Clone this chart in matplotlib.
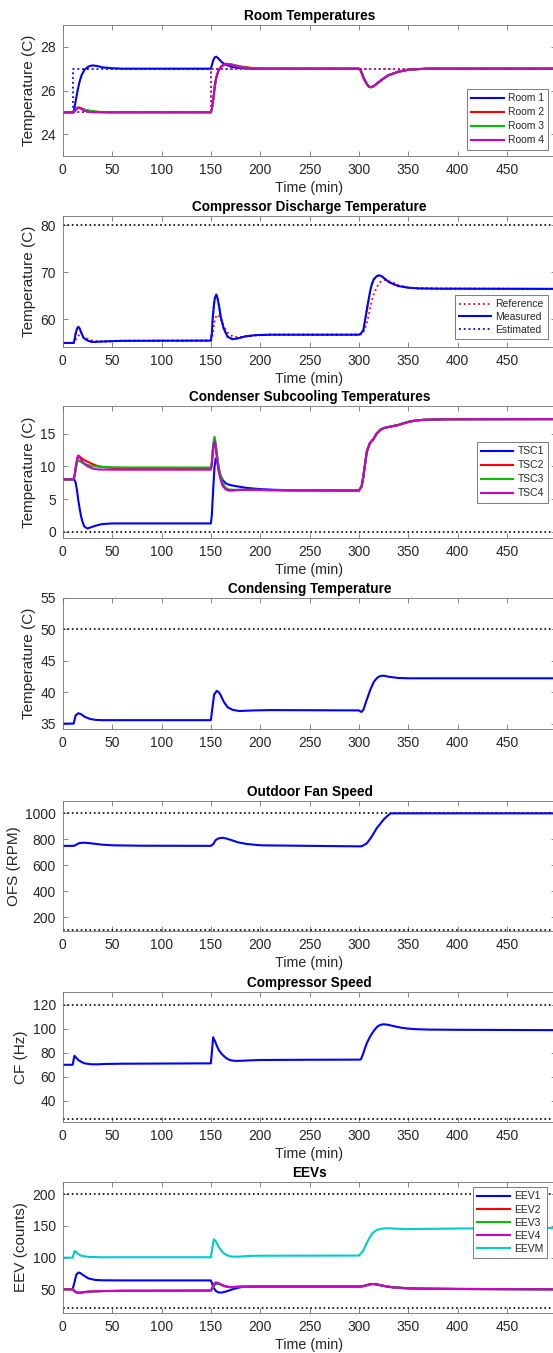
import matplotlib
matplotlib.use("Agg")
import matplotlib.pyplot as plt

plt.rcParams['font.family'] = ['Liberation Sans', 'DejaVu Sans']

# ---------------- data ----------------
# Room temperatures
T_ROOM = [0, 11, 13, 15, 17, 19, 22, 26, 30, 35, 40, 50, 60, 150, 151, 152.5, 154, 155.5, 158, 161,
          165, 170, 175, 180, 190, 200, 300, 302, 305, 308, 310, 312, 315, 320, 325, 330, 340, 350, 360, 370, 500]
ROOM1 = [25, 25, 25.5, 26.0, 26.4, 26.7, 26.95, 27.1, 27.15, 27.12, 27.06, 27.02, 27.0, 27.0, 27.15, 27.4, 27.52, 27.55, 27.45, 27.3,
         27.18, 27.1, 27.05, 27.02, 27.0, 27.0, 27.0, 26.9, 26.55, 26.3, 26.18, 26.15, 26.2, 26.38, 26.55, 26.7, 26.86, 26.95, 26.98, 27.0, 27.0]
ROOM2 = [25, 25, 25.12, 25.22, 25.22, 25.18, 25.12, 25.07, 25.04, 25.02, 25.01, 25.0, 25.0, 25.0, 25.15, 25.6, 26.2, 26.6, 26.95, 27.12,
         27.22, 27.2, 27.15, 27.1, 27.04, 27.0, 27.0, 26.9, 26.55, 26.3, 26.18, 26.15, 26.2, 26.38, 26.55, 26.7, 26.86, 26.95, 26.98, 27.0, 27.0]
ROOM3 = [25, 25, 25.1, 25.18, 25.2, 25.17, 25.12, 25.08, 25.05, 25.03, 25.01, 25.0, 25.0, 25.0, 25.15, 25.6, 26.2, 26.6, 26.95, 27.12,
         27.22, 27.2, 27.14, 27.08, 27.03, 27.0, 27.0, 26.9, 26.55, 26.3, 26.18, 26.15, 26.2, 26.38, 26.55, 26.7, 26.86, 26.95, 26.98, 27.0, 27.0]
ROOM4 = [25, 25, 25.12, 25.2, 25.2, 25.15, 25.07, 25.02, 25.0, 25.0, 25.0, 25.0, 25.0, 25.0, 25.15, 25.6, 26.2, 26.6, 26.95, 27.12,
         27.22, 27.18, 27.12, 27.07, 27.02, 27.0, 27.0, 26.9, 26.55, 26.3, 26.18, 26.15, 26.2, 26.38, 26.55, 26.7, 26.86, 26.95, 26.98, 27.0, 27.0]
T_REF_ROOM1 = [0, 10, 10, 500]
REF_ROOM1 = [25, 25, 27, 27]
T_REF_ROOMS = [0, 150, 150, 500]
REF_ROOMS = [25, 25, 27, 27]
ROOM_LABELS = ['Room 1', 'Room 2', 'Room 3', 'Room 4']

# Compressor discharge temperature
T_CDT = [0, 11, 12, 13, 14.5, 15.7, 17, 18.5, 21, 25, 30, 40, 60, 150, 151, 152, 153, 154, 155.5, 157,
         158.5, 160, 163, 167, 172, 178, 185, 195, 210, 300, 302, 304.5, 306, 308, 310, 311.6, 313, 315, 318, 320.6,
         323, 326, 330, 335, 340, 350, 360, 380, 500]
CDT_MEASURED = [55.0, 55.0, 55.8, 57.0, 58.1, 58.45, 58.1, 57.3, 56.1, 55.5, 55.2, 55.3, 55.45, 55.5, 57.0, 60.6, 62.8, 64.5, 65.3, 64.3,
                62.6, 60.6, 58.1, 56.3, 55.8, 56.0, 56.4, 56.65, 56.75, 56.75, 57.0, 57.7, 59.5, 62.0, 64.4, 66.2, 67.4, 68.5, 69.2, 69.4,
                69.2, 68.7, 68.0, 67.5, 67.1, 66.75, 66.6, 66.55, 66.5]
CDT_REFERENCE = [55.0, 55.0, 55.2, 55.6, 56.2, 56.5, 56.7, 56.6, 56.3, 55.9, 55.5, 55.3, 55.45, 55.5, 55.8, 57.0, 58.5, 59.8, 60.8, 61.0,
                 60.6, 60.0, 58.6, 57.2, 56.4, 56.2, 56.4, 56.6, 56.75, 56.75, 56.8, 57.2, 58.0, 59.2, 61.0, 62.6, 63.9, 65.3, 66.8, 67.7,
                 68.2, 68.4, 68.2, 67.8, 67.3, 66.8, 66.6, 66.55, 66.5]
CDT_ESTIMATED = [55.0, 55.0, 55.8, 57.0, 58.1, 58.45, 58.1, 57.3, 56.1, 55.5, 55.2, 55.3, 55.45, 55.5, 57.0, 60.6, 62.8, 64.5, 65.3, 64.3,
                 62.6, 60.6, 58.1, 56.3, 55.8, 56.0, 56.4, 56.65, 56.75, 56.75, 57.0, 57.7, 59.5, 62.0, 64.4, 66.2, 67.4, 68.5, 69.2, 69.4,
                 69.2, 68.7, 68.0, 67.5, 67.1, 66.75, 66.6, 66.55, 66.5]
CDT_MAX = 80

# Condenser subcooling temperatures
T_TSC = [0, 11, 12, 13.2, 14.5, 15.7, 17, 18.6, 20, 22, 25, 30, 35, 40, 50, 60, 150, 151, 152.3, 153.7,
         155, 156.5, 158, 160, 162, 165, 168, 172, 176, 180, 186, 193, 201, 215, 230, 300, 302.7, 304.5, 306.3, 308,
         311, 315, 318, 322, 326, 330, 335, 340, 345, 351, 358, 365, 375, 390, 500]
TSC1 = [8.0, 8.0, 7.9, 7.4, 6.2, 4.8, 3.6, 2.3, 1.5, 0.76, 0.5, 0.76, 1.0, 1.17, 1.27, 1.27, 1.27, 2.5, 6.3, 9.9,
        11.2, 10.8, 9.4, 8.5, 7.9, 7.4, 7.2, 7.05, 6.95, 6.85, 6.7, 6.6, 6.5, 6.4, 6.35, 6.3, 6.9, 8.4, 10.4, 12.2,
        13.5, 14.2, 15.0, 15.6, 15.85, 16.0, 16.15, 16.3, 16.55, 16.8, 17.0, 17.08, 17.13, 17.18, 17.2]
TSC2 = [8.0, 8.0, 8.6, 9.8, 10.9, 11.55, 11.5, 11.3, 11.15, 10.95, 10.7, 10.35, 10.05, 9.9, 9.75, 9.7, 9.65, 10.5, 13.0, 14.2,
        13.0, 11.2, 9.6, 8.2, 7.2, 6.5, 6.3, 6.3, 6.35, 6.4, 6.4, 6.4, 6.38, 6.35, 6.32, 6.3, 6.9, 8.4, 10.4, 12.2,
        13.5, 14.2, 15.0, 15.6, 15.85, 16.0, 16.15, 16.3, 16.55, 16.8, 17.0, 17.08, 17.13, 17.18, 17.2]
TSC3 = [8.0, 8.0, 8.6, 9.7, 10.6, 10.9, 10.8, 10.65, 10.5, 10.35, 10.2, 10.05, 9.95, 9.9, 9.85, 9.82, 9.8, 10.6, 13.3, 14.5,
        13.5, 11.5, 9.9, 8.5, 7.4, 6.7, 6.45, 6.4, 6.4, 6.4, 6.4, 6.4, 6.38, 6.35, 6.32, 6.3, 6.9, 8.4, 10.4, 12.2,
        13.5, 14.2, 15.0, 15.6, 15.85, 16.0, 16.15, 16.3, 16.55, 16.8, 17.0, 17.08, 17.13, 17.18, 17.2]
TSC4 = [8.0, 8.0, 8.7, 10.0, 11.2, 11.65, 11.4, 11.0, 10.7, 10.35, 10.0, 9.66, 9.52, 9.5, 9.48, 9.48, 9.48, 10.2, 12.6, 13.8,
        12.8, 10.8, 9.2, 7.9, 7.0, 6.5, 6.35, 6.35, 6.38, 6.4, 6.4, 6.4, 6.38, 6.35, 6.32, 6.3, 6.9, 8.4, 10.4, 12.2,
        13.5, 14.2, 15.0, 15.6, 15.85, 16.0, 16.15, 16.3, 16.55, 16.8, 17.0, 17.08, 17.13, 17.18, 17.2]
TSC_LABELS = ['TSC1', 'TSC2', 'TSC3', 'TSC4']
TSC_MIN = 0

# Condensing temperature
T_TC = [0, 11, 13, 15.7, 18.6, 22, 27.5, 33, 40, 150, 151.5, 153.3, 156, 158, 160, 163, 167, 172, 179, 186,
        194, 210, 300, 302.5, 304.5, 308, 311.6, 315, 318, 320.6, 323, 326, 330, 335, 340, 350, 370, 500]
TC = [35.0, 35.0, 36.3, 36.65, 36.5, 36.1, 35.75, 35.6, 35.55, 35.55, 37.4, 39.6, 40.2, 40.0, 39.5, 38.5, 37.6, 37.2, 37.0, 37.05,
      37.1, 37.15, 37.1, 36.85, 37.2, 38.8, 40.4, 41.6, 42.2, 42.5, 42.6, 42.6, 42.45, 42.35, 42.25, 42.2, 42.2, 42.2]
TC_MAX = 50

# Outdoor fan speed
T_OFS = [0, 11, 13, 16.8, 22, 29, 40, 51, 79, 150, 152.5, 155, 158, 161.5, 165, 170.5, 177.6, 186.6, 201, 250,
         300, 303, 308, 312, 315, 318, 322, 325, 328, 332, 500]
OFS = [750, 750, 756, 772, 774, 769, 759, 754, 751, 750, 764, 795, 808, 812, 808, 795, 777, 764, 754, 750,
       746, 747, 769, 810, 846, 885, 923, 952, 974, 1000, 1000]
OFS_LIMITS = [100, 1000]

# Compressor speed
T_CF = [0, 10, 11.8, 13.5, 15.7, 18.6, 22, 29, 36, 43.6, 60, 150, 151, 152.3, 154.4, 156, 158, 160, 162, 164.5,
        167, 170, 174, 179, 190, 200, 250, 300, 302, 304.5, 306, 308, 311, 313.4, 316, 318.8, 321, 324, 328, 333,
        338, 344, 350, 358, 370, 400, 500]
CF = [70.0, 70.0, 77.5, 76.0, 74.0, 72.5, 71.2, 70.4, 70.4, 70.7, 70.9, 71.2, 80.0, 93.0, 89.3, 86.0, 82.4, 80.0, 78.2, 76.3,
      74.8, 73.8, 73.3, 73.3, 73.7, 74.0, 74.2, 74.3, 74.5, 79.6, 83.5, 88.0, 93.0, 96.3, 99.3, 101.9, 103.0, 103.8, 103.6, 102.7,
      101.8, 100.8, 100.2, 99.7, 99.4, 99.2, 98.9]
CF_LIMITS = [25, 120]

# EEVs
T_EEV = [0, 10, 12, 13.6, 15.7, 18, 20.4, 25.7, 33, 40, 60, 150, 151, 153, 155, 158, 161.5, 165, 168.7, 172,
         178, 183, 190, 200, 300, 304, 308, 311, 314, 318, 322, 328, 335, 347, 360, 400, 500]
EEV1 = [50, 50, 62, 72.6, 76.5, 75.5, 72.6, 67.3, 64.7, 64.2, 64, 64, 60, 52, 47.5, 44.8, 45.0, 46.3, 48.2, 50,
        52.5, 54, 54.2, 54.3, 54.3, 54.8, 56.5, 57.8, 58.4, 57.8, 56.3, 54.5, 53.0, 51.8, 51.0, 50.5, 50]
EEV2 = [50, 50, 47, 45.3, 44.8, 44.9, 45.5, 46.3, 46.8, 47.2, 47.6, 48, 50, 57, 60, 59, 56.5, 54.5, 53.5, 53.5,
        54, 54.2, 54.2, 54.3, 54.3, 54.8, 56.5, 57.8, 58.4, 57.8, 56.3, 54.5, 53.0, 51.8, 51.0, 50.5, 50]
EEV3 = [50, 50, 46.5, 44.8, 44.0, 44.2, 45.0, 46.0, 46.7, 47.1, 47.5, 47.8, 50, 55, 58, 58.5, 56.5, 54.5, 53.5, 53.5,
        54, 54.2, 54.2, 54.3, 54.3, 54.8, 56.5, 57.8, 58.4, 57.8, 56.3, 54.5, 53.0, 51.8, 51.0, 50.5, 50]
EEV4 = [50, 50, 47, 45.5, 44.5, 44.5, 45.2, 46.2, 46.8, 47.2, 47.6, 48, 51, 58, 61, 59.5, 56.5, 54.5, 53.5, 53.5,
        54, 54.2, 54.2, 54.3, 54.3, 54.8, 56.5, 57.8, 58.4, 57.8, 56.3, 54.5, 53.0, 51.8, 51.0, 50.5, 50]
EEVM = [100, 100, 110.5, 109, 105.6, 103.5, 102.5, 101.2, 100.8, 100.6, 100.6, 100.6, 110, 129, 126, 117, 109.3, 105, 102.4, 101.6,
        101.6, 102.2, 102.8, 103, 103.3, 110, 123, 132, 139, 143.5, 145.5, 146.5, 146, 145, 145.3, 146, 147]
EEV_LABELS = ['EEV1', 'EEV2', 'EEV3', 'EEV4', 'EEVM']
EEV_LIMITS = [20, 200]

XTICKS = [0, 50, 100, 150, 200, 250, 300, 350, 400, 450]

# ---------------- layout ----------------
W, H = 553, 1353
fig = plt.figure(figsize=(W / 100, H / 100), dpi=100)

LEFT_PX, RIGHT_PX = 62.8, 556.3
boxes = [(25.0, 156.0), (216.0, 346.7), (406.0, 538.3), (597.7, 729.3),
         (801.0, 931.0), (991.7, 1122.3), (1181.7, 1312.7)]

BLUE, RED, GREEN, MAG, CYAN = '#0000ff', '#ff0000', '#00c000', '#cc00cc', '#00cccc'
LW = 1.5
TXT = '#262626'


def make_ax(i):
    top, bot = boxes[i]
    ax = fig.add_axes([LEFT_PX / W, 1 - bot / H, (RIGHT_PX - LEFT_PX) / W, (bot - top) / H])
    ax.set_xlim(0, 500)
    ax.set_xticks(XTICKS)
    ax.tick_params(direction='in', top=True, right=True, length=3.3, width=0.5,
                   colors='0.35', labelcolor=TXT, labelsize=10, pad=5)
    for s in ax.spines.values():
        s.set_color('0.45')
        s.set_linewidth(0.6)
    return ax


def finish(ax, title, ylabel, xlabel=True):
    ax.set_title(title, fontsize=9.8, fontweight='bold', pad=3.5)
    ax.set_ylabel(ylabel, fontsize=11, color=TXT, labelpad=3)
    if xlabel:
        ax.set_xlabel('Time (min)', fontsize=10.3, color=TXT, labelpad=3)


def add_legend(ax, handles, labels, right_px, top_px, spacing=0.3):
    leg = ax.legend(handles, labels, loc='upper right',
                    bbox_to_anchor=(right_px / W, 1 - top_px / H), bbox_transform=fig.transFigure,
                    fontsize=7.5, frameon=True, fancybox=False, framealpha=1, edgecolor='0.4',
                    borderpad=0.4, labelspacing=spacing, handlelength=3.1, handletextpad=0.4,
                    borderaxespad=0)
    leg.get_frame().set_linewidth(0.6)
    for t in leg.get_texts():
        t.set_color(TXT)
    return leg


# 1. Room temperatures
ax = make_ax(0)
ax.plot(T_REF_ROOM1, REF_ROOM1, ':', color=BLUE, lw=1.3)
h = []
for vals, c in zip([ROOM1, ROOM2, ROOM3, ROOM4], [BLUE, RED, GREEN, MAG]):
    h.append(ax.plot(T_ROOM, vals, '-', color=c, lw=LW)[0])
for c in [RED, GREEN, MAG]:
    ax.plot(T_REF_ROOMS, REF_ROOMS, ':', color=c, lw=1.3)
ax.set_ylim(23, 29)
ax.set_yticks([24, 26, 28])
finish(ax, 'Room Temperatures', 'Temperature (C)')
add_legend(ax, h, ROOM_LABELS, 548, 89.3, spacing=0.38)

# 2. Compressor discharge temperature
ax = make_ax(1)
ax.axhline(CDT_MAX, color='k', ls=':', lw=1.2)
h1, = ax.plot(T_CDT, CDT_REFERENCE, ':', color=RED, lw=1.3)
h2, = ax.plot(T_CDT, CDT_MEASURED, '-', color=BLUE, lw=LW)
h3, = ax.plot(T_CDT, CDT_ESTIMATED, ':', color=BLUE, lw=1.3)
ax.set_ylim(54.2, 82)
ax.set_yticks([60, 70, 80])
finish(ax, 'Compressor Discharge Temperature', 'Temperature (C)')
add_legend(ax, [h1, h2, h3], ['Reference', 'Measured', 'Estimated'], 548, 295, spacing=0.28)

# 3. Condenser subcooling
ax = make_ax(2)
ax.axhline(TSC_MIN, color='k', ls=':', lw=1.2)
h = []
for vals, c in zip([TSC1, TSC2, TSC3, TSC4], [BLUE, RED, GREEN, MAG]):
    h.append(ax.plot(T_TSC, vals, '-', color=c, lw=LW)[0])
ax.set_ylim(-1, 19.2)
ax.set_yticks([0, 5, 10, 15])
finish(ax, 'Condenser Subcooling Temperatures', 'Temperature (C)')
add_legend(ax, h, TSC_LABELS, 548, 442.3, spacing=0.38)

# 4. Condensing temperature
ax = make_ax(3)
ax.axhline(TC_MAX, color='k', ls=':', lw=1.2)
ax.plot(T_TC, TC, '-', color=BLUE, lw=LW)
ax.set_ylim(34.1, 55)
ax.set_yticks([35, 40, 45, 50, 55])
finish(ax, 'Condensing Temperature', 'Temperature (C)', xlabel=False)

# 5. Outdoor fan speed
ax = make_ax(4)
for v in OFS_LIMITS:
    ax.axhline(v, color='k', ls=':', lw=1.2)
ax.plot(T_OFS, OFS, '-', color=BLUE, lw=LW)
ax.set_ylim(95, 1095)
ax.set_yticks([200, 400, 600, 800, 1000])
finish(ax, 'Outdoor Fan Speed', 'OFS (RPM)')

# 6. Compressor speed
ax = make_ax(5)
for v in CF_LIMITS:
    ax.axhline(v, color='k', ls=':', lw=1.2)
ax.plot(T_CF, CF, '-', color=BLUE, lw=LW)
ax.set_ylim(22, 131)
ax.set_yticks([40, 60, 80, 100, 120])
finish(ax, 'Compressor Speed', 'CF (Hz)')

# 7. EEVs
ax = make_ax(6)
for v in EEV_LIMITS:
    ax.axhline(v, color='k', ls=':', lw=1.2)
h = []
for vals, c in zip([EEV1, EEV2, EEV3, EEV4, EEVM], [BLUE, RED, GREEN, MAG, CYAN]):
    h.append(ax.plot(T_EEV, vals, '-', color=c, lw=LW)[0])
ax.set_ylim(13, 220)
ax.set_yticks([50, 100, 150, 200])
finish(ax, 'EEVs', 'EEV (counts)')
add_legend(ax, h, EEV_LABELS, 547.3, 1187.3, spacing=0.3)

fig.savefig('out.png', dpi=100, facecolor='white')
